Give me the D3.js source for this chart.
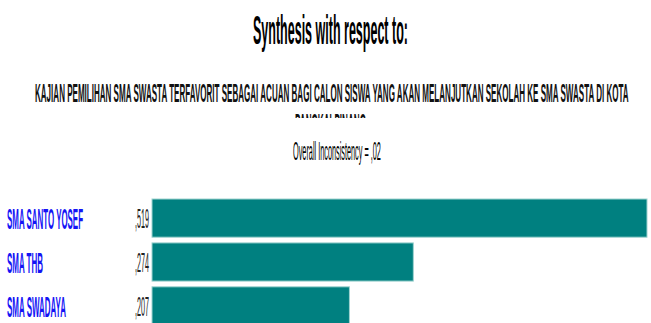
<!DOCTYPE html>
<html>
<head>
<meta charset="utf-8">
<script src="https://cdn.jsdelivr.net/npm/d3@7"></script>
<style>
html,body{margin:0;padding:0;background:#fff;overflow:hidden;}
text{font-family:"Liberation Sans", Arial, sans-serif;}
</style>
</head>
<body>
<svg id="chart" width="651" height="323"></svg>
<script>
const titleText = "Synthesis with respect to:";
const subtitleLines = ["KAJIAN PEMILIHAN SMA SWASTA TERFAVORIT SEBAGAI ACUAN BAGI CALON SISWA YANG AKAN MELANJUTKAN SEKOLAH KE SMA SWASTA DI KOTA", "PANGKALPINANG"];
const inconsistencyText = "Overall Inconsistency = ,02";
const categories = ["SMA SANTO YOSEF", "SMA THB", "SMA SWADAYA"];
const values = [0.519, 0.274, 0.207];
const valueLabels = [",519", ",274", ",207"];

const svg = d3.select("#chart");

// condensed text: place at (x, y) and squeeze horizontally to width w
function condensed(parent, str, x0, y0, w, size, weight, fill){
  const t = parent.append("text").attr("x", 0).attr("y", 0)
    .attr("font-size", size).attr("font-weight", weight).attr("fill", fill).text(str);
  const nat = t.node().getComputedTextLength();
  t.attr("transform", `translate(${x0},${y0}) scale(${w / nat},1)`);
  return t;
}

condensed(svg, titleText, 253, 44, 155, 40, "bold", "#000");
condensed(svg, subtitleLines[0], 35, 102, 594, 26, "bold", "#111");

svg.append("clipPath").attr("id", "clip2").append("rect")
  .attr("x", 0).attr("y", 106).attr("width", 651).attr("height", 12);
condensed(svg.append("g").attr("clip-path", "url(#clip2)"), subtitleLines[1], 295, 132, 71, 26, "bold", "#111");

condensed(svg, inconsistencyText, 293, 160, 88, 26, "normal", "#000");

const barX0 = 152;
const x = d3.scaleLinear().domain([0, d3.max(values)]).range([0, 495]);
const y = d3.scaleBand().domain(categories).range([199, 325]).paddingInner(0.13).paddingOuter(0);

const labelWidths = {"SMA SANTO YOSEF": 76, "SMA THB": 36, "SMA SWADAYA": 59};

const rows = svg.append("g").selectAll("g").data(categories).join("g");

rows.append("rect")
  .attr("x", barX0)
  .attr("y", d => y(d))
  .attr("width", (d, i) => x(values[i]))
  .attr("height", y.bandwidth())
  .attr("fill", "#008080")
  .attr("stroke", "#9fd3d0")
  .attr("stroke-width", 1);

rows.each(function(d, i){
  const g = d3.select(this);
  const cy = y(d) + y.bandwidth() / 2;
  condensed(g, d, 7, cy + 11, labelWidths[d], 30, "bold", "#1414f5");
  condensed(g, valueLabels[i], 135, cy + 10, 14, 27, "normal", "#222");
});
</script>
</body>
</html>
